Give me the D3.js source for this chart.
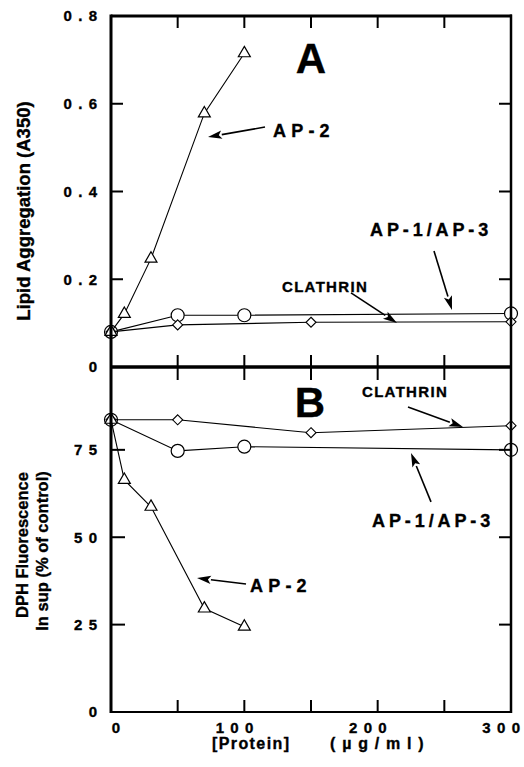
<!DOCTYPE html>
<html><head><meta charset="utf-8">
<script src="https://cdn.jsdelivr.net/npm/d3@7"></script>
<style>
html,body{margin:0;padding:0;background:#fff;}
text{font-family:"Liberation Sans",Arial,Helvetica,sans-serif;font-weight:700;fill:#000;stroke:#000;stroke-width:0.35;}
</style></head>
<body>
<svg id="chart" width="524" height="767"></svg>
<script>
// ---------------- data ----------------
const xTickValues = [0, 50, 100, 150, 200, 250, 300];
const xTickLabels = [0, 100, 200, 300];
const yTicksA = [0, 0.2, 0.4, 0.6, 0.8];
const yTickLabelsA = ["0", "0.2", "0.4", "0.6", "0.8"];
const yTicksB = [0, 25, 50, 75];
const yTickLabelsB = ["0", "25", "50", "75"];

// Panel A: Lipid aggregation (A350)
const ap2X = [0, 10, 30, 70, 100];
const ap2A = [0.080, 0.121, 0.247, 0.578, 0.715];
const ap13X = [0, 50, 100, 300];
const ap13A = [0.080, 0.118, 0.118, 0.122];
const clathX = [0, 50, 150, 300];
const clathA = [0.080, 0.096, 0.102, 0.103];

// Panel B: DPH fluorescence in sup (% of control)
const ap2B = [83.6, 66.4, 58.7, 29.6, 24.4];
const ap13B = [83.6, 74.7, 75.9, 75.0];
const clathB = [83.6, 83.6, 79.9, 81.9];

// ---------------- layout ----------------
const svg = d3.select("#chart");
svg.append("rect").attr("width", 524).attr("height", 767).attr("fill", "#fff");

const x = d3.scaleLinear().domain([0, 300]).range([111, 511]);
const yA = d3.scaleLinear().domain([0, 0.8]).range([367, 16]);
const yB = d3.scaleLinear().domain([0, 98.7]).range([712, 367]);

const gData = svg.append("g");
const gAxes = svg.append("g");
const gAnn = svg.append("g");

// text with spacing between characters only (no trailing space)
function spaced(g, str, px, py, size, ls, anchor) {
  const t = g.append("text").attr("x", px).attr("y", py).attr("font-size", size)
    .attr("text-anchor", anchor || "start");
  Array.from(str).forEach((ch, i) => {
    t.append("tspan").attr("dx", i === 0 ? 0 : ls).text(ch);
  });
  return t;
}

function series(xs, ys, yScale, shape) {
  const pts = xs.map((v, i) => [x(v), yScale(ys[i])]);
  gData.append("path")
    .attr("d", d3.line()(pts))
    .attr("fill", "none").attr("stroke", "#000").attr("stroke-width", 1.1);
  pts.forEach(p => {
    if (shape === "circle") {
      gData.append("circle").attr("cx", p[0]).attr("cy", p[1]).attr("r", 6.5)
        .attr("fill", "#fff").attr("stroke", "#000").attr("stroke-width", 1.2);
    } else if (shape === "triangle") {
      const s = d3.symbol().type(d3.symbolTriangle).size(62);
      gData.append("path").attr("d", s()).attr("transform", `translate(${p[0]},${p[1]})`)
        .attr("fill", "#fff").attr("stroke", "#000").attr("stroke-width", 1.2);
    } else {
      const h = 5;
      gData.append("path")
        .attr("d", `M${p[0]},${p[1]-h}L${p[0]+h},${p[1]}L${p[0]},${p[1]+h}L${p[0]-h},${p[1]}Z`)
        .attr("fill", "#fff").attr("stroke", "#000").attr("stroke-width", 1.1);
    }
  });
}

series(ap13X, ap13A, yA, "circle");
series(clathX, clathA, yA, "diamond");
series(ap2X, ap2A, yA, "triangle");
series(ap13X, ap13B, yB, "circle");
series(clathX, clathB, yB, "diamond");
series(ap2X, ap2B, yB, "triangle");

// ---------------- axes / frame ----------------
function line(x1, y1, x2, y2, w) {
  gAxes.append("line").attr("x1", x1).attr("y1", y1).attr("x2", x2).attr("y2", y2)
    .attr("stroke", "#000").attr("stroke-width", w);
}
const L = 12;
xTickValues.slice(1, -1).forEach(v => {
  line(x(v), yA(0.8), x(v), yA(0.8) + L, 2);
  line(x(v), yA(0) - L, x(v), yA(0) + L + 1, 2);
  line(x(v), yB(0), x(v), yB(0) - L, 2);
});
yTicksA.slice(1, -1).forEach(v => {
  line(x(0), yA(v), x(0) + L, yA(v), 2);
  line(x(300), yA(v), x(300) - L, yA(v), 2);
});
yTicksB.slice(1).forEach(v => {
  line(x(0), yB(v), x(0) + L + 2, yB(v), 2);
  line(x(300), yB(v), x(300) - L, yB(v), 2);
});
// frame
line(x(0), yA(0.8) - 1.5, x(0), yB(0) + 1, 3);
line(x(0), yA(0.8), x(300) + 1, yA(0.8), 3);
line(x(0), yA(0), x(300) + 1, yA(0), 3.5);
line(x(300), yA(0.8) - 1.5, x(300), yB(0) + 1, 2.5);
line(x(0), yB(0), x(300) + 1, yB(0), 2);

// tick labels
const LS = 6.3;
const TF = 15;
yTicksA.forEach((v, i) => {
  spaced(gAxes, yTickLabelsA[i], 97, yA(v) + 5.4, TF, LS, "end");
});
yTicksB.forEach((v, i) => {
  spaced(gAxes, yTickLabelsB[i], 97, yB(v) + 5.4, TF, LS, "end");
});
xTickLabels.forEach(v => {
  spaced(gAxes, String(v), x(v) + 9, 733, TF, LS, "end");
});

// axis titles
spaced(gAxes, "[Protein]", 212, 749, 16, 1.4);
spaced(gAxes, "(µg/ml)", 330, 749, 16, 6.8);

gAxes.append("text").attr("transform", "translate(30,211) rotate(-90)")
  .attr("text-anchor", "middle").attr("font-size", 18.5).text("Lipid Aggregation  (A350)");
gAxes.append("text").attr("transform", "translate(28,545) rotate(-90)")
  .attr("text-anchor", "middle").attr("font-size", 16.5).text("DPH Fluorescence");
gAxes.append("text").attr("transform", "translate(48,551) rotate(-90)")
  .attr("text-anchor", "middle").attr("font-size", 16.5).text("In sup (% of control)");

// ---------------- annotations ----------------
function arrow(x1, y1, x2, y2) {
  const dx = x2 - x1, dy = y2 - y1, len = Math.hypot(dx, dy);
  const ux = dx / len, uy = dy / len;
  const hl = 14, hw = 4.2;
  const bx = x2 - ux * hl, by = y2 - uy * hl;
  gAnn.append("line").attr("x1", x1).attr("y1", y1).attr("x2", bx).attr("y2", by)
    .attr("stroke", "#000").attr("stroke-width", 1.6);
  gAnn.append("path")
    .attr("d", `M${x2},${y2}L${bx - uy * hw},${by + ux * hw}L${bx + ux * 3},${by + uy * 3}L${bx + uy * hw},${by - ux * hw}Z`)
    .attr("fill", "#000");
}

// Panel A
spaced(gAnn, "A", x(150), yA(0.670), 42, 0, "middle");
spaced(gAnn, "AP-2", x(121.5), yA(0.524), 18, 5.2);
arrow(x(115.5), yA(0.547), x(72.75), yA(0.524));
spaced(gAnn, "AP-1/AP-3", x(194.25), yA(0.2986), 18, 3.9);
arrow(x(242.25), yA(0.2644), x(255.75), yA(0.130));
spaced(gAnn, "CLATHRIN", x(128.25), yA(0.171), 15, 1.3);
arrow(x(180), yA(0.169), x(214.5), yA(0.1003));

// Panel B
spaced(gAnn, "B", x(149.25), yB(84.3), 42, 0, "middle");
spaced(gAnn, "CLATHRIN", x(188.25), yB(90.1), 15, 1.3);
arrow(x(222.75), yB(87.26), x(264), yB(81.5));
spaced(gAnn, "AP-1/AP-3", x(195.75), yB(52.9), 18, 3.9);
arrow(x(240), yB(60.1), x(225), yB(74.1));
spaced(gAnn, "AP-2", x(104.25), yB(34.3), 18, 5.2);
arrow(x(101.25), yB(36.6), x(64.5), yB(38.3));
</script>
</body></html>
